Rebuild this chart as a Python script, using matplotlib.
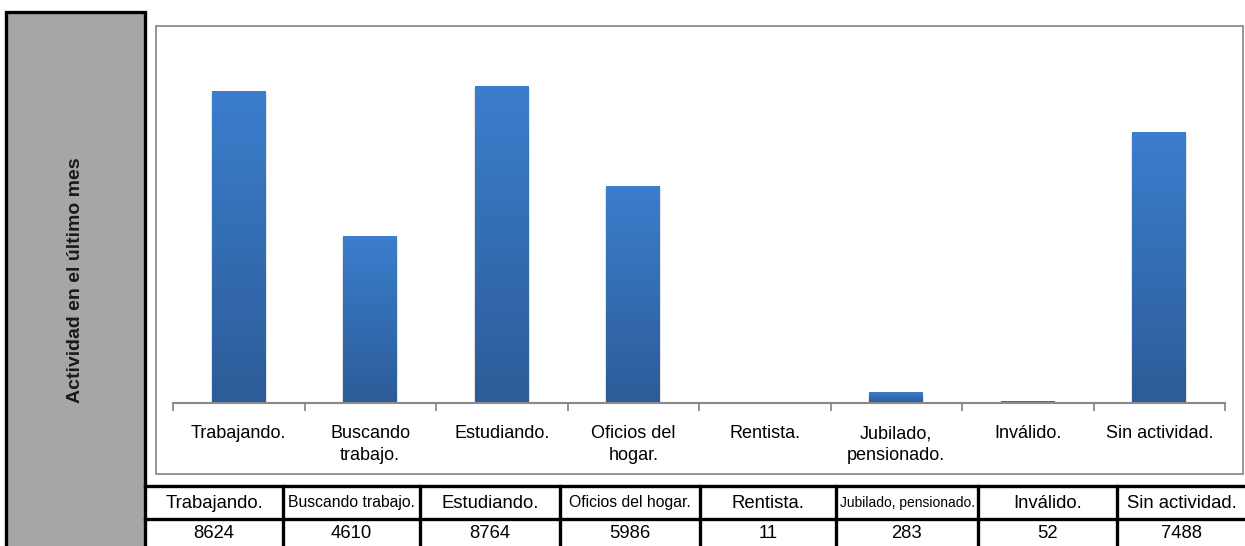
import numpy as np
import matplotlib
matplotlib.use('Agg')
import matplotlib.pyplot as plt
from matplotlib.patches import Rectangle
from matplotlib.lines import Line2D
from matplotlib.colors import LinearSegmentedColormap

# Activity in the last month: category labels and counts
axis_labels = ['Trabajando.', 'Buscando\ntrabajo.', 'Estudiando.', 'Oficios del\nhogar.',
               'Rentista.', 'Jubilado,\npensionado.', 'Inválido.', 'Sin actividad.']
table_labels = ['Trabajando.', 'Buscando trabajo.', 'Estudiando.', 'Oficios del hogar.',
                'Rentista.', 'Jubilado, pensionado.', 'Inválido.', 'Sin actividad.']
counts = [8624, 4610, 8764, 5986, 11, 283, 52, 7488]
panel_title = 'Actividad en el último mes'

W, H = 1245, 546
narrow = ['Liberation Sans Narrow', 'Liberation Sans', 'DejaVu Sans']
plt.rcParams['font.family'] = narrow

fig = plt.figure(figsize=(W / 100, H / 100), dpi=100)


def fx(x):
    return x / W


def fy(y):
    return 1 - y / H


# grey side panel with the vertical title
fig.patches.append(Rectangle((fx(6), fy(560)), fx(145) - fx(6), fy(12) - fy(560),
                             transform=fig.transFigure, facecolor='#a6a6a6',
                             edgecolor='black', linewidth=2.4, zorder=0))
fig.text(fx(75), fy(280), panel_title, rotation=90, ha='center', va='center',
         fontsize=14, fontweight='bold', family=['Liberation Sans', 'DejaVu Sans'],
         color='#1a1a1a')

# chart frame
fig.patches.append(Rectangle((fx(156), fy(474)), fx(1243) - fx(156), fy(26) - fy(474),
                             transform=fig.transFigure, facecolor='white',
                             edgecolor='#8c8c8c', linewidth=1.3, zorder=0))

ax = fig.add_axes([fx(173), fy(403), fx(1225) - fx(173), fy(41.3) - fy(403)])
ax.set_zorder(2)
ax.patch.set_visible(False)
for side in ['top', 'right', 'left']:
    ax.spines[side].set_visible(False)
ax.spines['bottom'].set_color('#8a8a8a')
ax.spines['bottom'].set_linewidth(1.5)
ax.set_yticks([])

# gradient filled bars
cmap = LinearSegmentedColormap.from_list('bar', ['#2c5c98', '#3b7ecd'])
grad = np.linspace(0, 1, 256).reshape(-1, 1)
bw = 0.41
for i, v in enumerate(counts):
    # soft shadow
    ax.add_patch(Rectangle((i - bw / 2 - 0.008, 0), bw + 0.016, max(v - 50, 0),
                           facecolor='#b0b0b0', alpha=0.35, edgecolor='none', zorder=1))
    ax.imshow(grad, extent=[i - bw / 2, i + bw / 2, 0, v], origin='lower', cmap=cmap,
              aspect='auto', zorder=2, interpolation='bilinear')
ax.set_xlim(-0.5, len(counts) - 0.5)
ax.set_ylim(0, 10000)

ax.set_xticks(range(len(counts)))
ax.set_xticklabels(axis_labels, fontsize=13, linespacing=1.35, va='top')
ax.tick_params(axis='x', which='major', length=0, pad=16)
ax.set_xticks(np.arange(-0.5, len(counts)), minor=True)
ax.tick_params(axis='x', which='minor', length=6, width=1.3, color='#8a8a8a', direction='out')

# data table under the chart
col_edges = [145, 283, 420, 560, 700, 836, 978, 1117, 1246]
row_lines = [486, 519]
for y in row_lines:
    fig.add_artist(Line2D([fx(145), fx(W)], [fy(y), fy(y)], transform=fig.transFigure,
                          color='black', linewidth=2.4))
for x in col_edges[1:-1]:
    fig.add_artist(Line2D([fx(x), fx(x)], [fy(486), fy(H + 5)], transform=fig.transFigure,
                          color='black', linewidth=2.4))

for i, (lab, v) in enumerate(zip(table_labels, counts)):
    cx = (col_edges[i] + col_edges[i + 1]) / 2
    size = 13.3
    if len(lab) > 18:
        size = 10
    elif len(lab) > 15:
        size = 11.3
    fig.text(fx(cx), fy(503), lab, ha='center', va='center', fontsize=size)
    fig.text(fx(cx), fy(534), str(v), ha='center', va='center', fontsize=13.3)

fig.savefig('out.png', dpi=100)
